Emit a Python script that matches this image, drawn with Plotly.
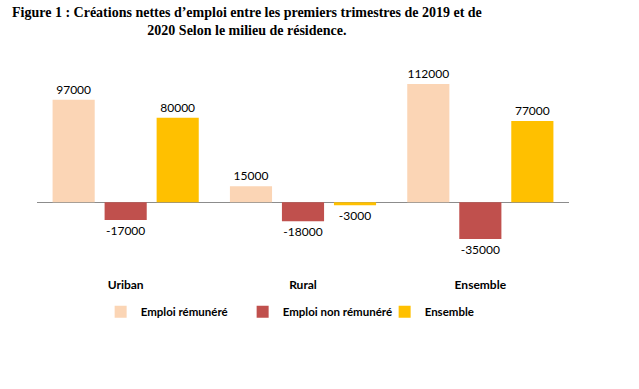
import plotly.graph_objects as go

categories = ["Uriban", "Rural", "Ensemble"]
emploi_remunere = [97000, 15000, 112000]
emploi_non_remunere = [-17000, -18000, -35000]
ensemble = [80000, -3000, 77000]

series = [
    ("Emploi rémunéré", emploi_remunere, "#FBD5B5"),
    ("Emploi non rémunéré", emploi_non_remunere, "#C0504D"),
    ("Ensemble", ensemble, "#FFC000"),
]

W, H = 639, 389

fig = go.Figure()
for name, vals, col in series:
    fig.add_trace(go.Bar(
        x=categories, y=vals, name=name, marker=dict(color=col, line=dict(width=0)),
        text=[str(v) for v in vals], textposition="outside",
        textfont=dict(family="Lato", size=12, color="#000000"),
        cliponaxis=False,
    ))

fig.update_layout(
    width=W, height=H,
    paper_bgcolor="white", plot_bgcolor="white",
    margin=dict(l=37, r=70, t=65, b=113),
    barmode="group", bargap=0.12, bargroupgap=0.19,
    showlegend=True,
    legend=dict(orientation="h", x=0.52, xanchor="center", y=-0.17, yanchor="middle",
                font=dict(family="Lato", size=11.5, color="#000000", weight="bold"),
                itemwidth=30, entrywidth=97, entrywidthmode="pixels"),
    annotations=[dict(
        text="Figure 1 : Créations nettes d’emploi entre les premiers trimestres de 2019 et de<br>2020 Selon le milieu de résidence.",
        xref="paper", yref="paper", x=(247 - 37) / 532, xanchor="center",
        y=1 + (65 - 3) / 211, yanchor="top", showarrow=False, align="center",
        font=dict(family="Liberation Serif", size=14, color="#000000", weight="bold"),
    )],
    xaxis=dict(showline=False, showgrid=False, ticks="",
               tickfont=dict(family="Lato", size=12, color="#000000", weight="bold")),
    yaxis=dict(range=[-70000, 130000], showticklabels=False, showgrid=False,
               zeroline=True, zerolinecolor="#8C8C8C", zerolinewidth=1, showline=False),
)

fig.write_html("out.html", config={"displayModeBar": False},
               post_script="document.body.style.margin='0';")
